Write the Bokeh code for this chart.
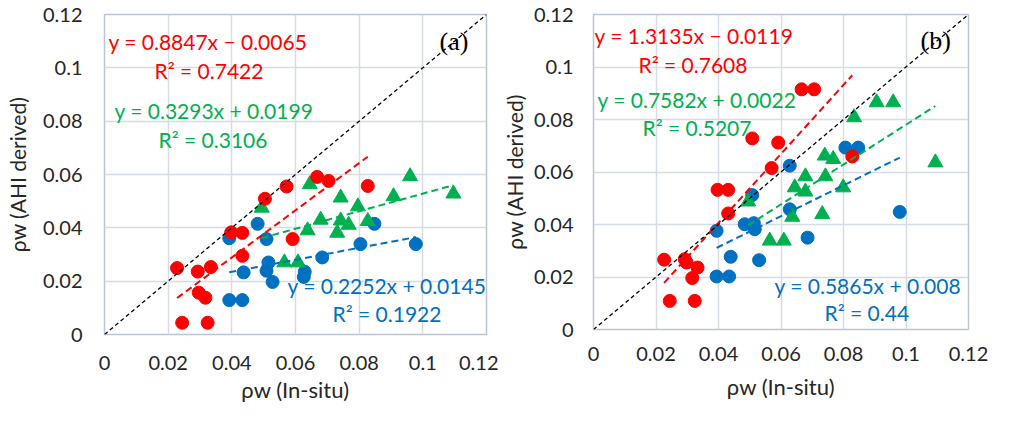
from bokeh.plotting import figure
from bokeh.layouts import row
from bokeh.models import Range1d, FixedTicker, Label
from bokeh.embed import file_html
from bokeh.resources import INLINE

# ---------------- data ----------------
ticks = [0, 0.02, 0.04, 0.06, 0.08, 0.1, 0.12]
tick_labels = ["0", "0.02", "0.04", "0.06", "0.08", "0.1", "0.12"]

# panel (a)
red_a_x = [0.0228, 0.0293, 0.0334, 0.0296, 0.0317, 0.0244, 0.0324, 0.0398, 0.0433, 0.0433, 0.0504, 0.0572, 0.0668, 0.0704, 0.0591, 0.0827]
red_a_y = [0.0249, 0.0236, 0.0253, 0.0157, 0.0138, 0.0044, 0.0044, 0.0383, 0.0381, 0.0295, 0.0509, 0.0555, 0.0591, 0.0576, 0.0358, 0.0557]
green_a_x = [0.0494, 0.0645, 0.0960, 0.0742, 0.0908, 0.1096, 0.0796, 0.0679, 0.0742, 0.0767, 0.0827, 0.0638, 0.0731, 0.0565, 0.0608]
green_a_y = [0.0475, 0.0563, 0.0593, 0.0513, 0.0518, 0.0528, 0.0480, 0.0430, 0.0427, 0.0411, 0.0425, 0.0390, 0.0381, 0.0270, 0.0270]
blue_a_x = [0.0481, 0.0392, 0.0509, 0.0437, 0.0515, 0.0509, 0.0528, 0.0629, 0.0626, 0.0684, 0.0804, 0.0848, 0.0978, 0.0392, 0.0433]
blue_a_y = [0.0415, 0.0361, 0.0358, 0.0233, 0.0270, 0.0239, 0.0197, 0.0235, 0.0216, 0.0289, 0.0339, 0.0415, 0.0339, 0.0129, 0.0129]

# panel (b)
red_b_x = [0.0666, 0.0706, 0.0508, 0.0591, 0.0828, 0.0570, 0.0397, 0.0431, 0.0431, 0.0226, 0.0292, 0.0298, 0.0333, 0.0316, 0.0244, 0.0324]
red_b_y = [0.0915, 0.0915, 0.0728, 0.0712, 0.0659, 0.0615, 0.0532, 0.0532, 0.0442, 0.0266, 0.0268, 0.0255, 0.0236, 0.0196, 0.0109, 0.0109]
green_b_x = [0.0906, 0.0959, 0.0834, 0.1094, 0.0740, 0.0767, 0.0678, 0.0742, 0.0644, 0.0678, 0.0799, 0.0495, 0.0636, 0.0732, 0.0564, 0.0609]
green_b_y = [0.0865, 0.0865, 0.0808, 0.0636, 0.0662, 0.0649, 0.0583, 0.0583, 0.0541, 0.0525, 0.0541, 0.0487, 0.0429, 0.0439, 0.0338, 0.0338]
blue_b_x = [0.0806, 0.0847, 0.0628, 0.0508, 0.0628, 0.0980, 0.0394, 0.0484, 0.0513, 0.0516, 0.0685, 0.0439, 0.0530, 0.0394, 0.0434]
blue_b_y = [0.0693, 0.0693, 0.0624, 0.0512, 0.0458, 0.0448, 0.0376, 0.0401, 0.0405, 0.0382, 0.0350, 0.0277, 0.0264, 0.0202, 0.0202]

# trendline coefficients (slope, intercept)
fit_a = {"red": (0.8847, -0.0065), "green": (0.3293, 0.0199), "blue": (0.2252, 0.0145)}
fit_b = {"red": (1.3135, -0.0119), "green": (0.7582, 0.0022), "blue": (0.5865, 0.008)}

eq_a = {"red": ["y = 0.8847x \u2212 0.0065", "R\u00b2 = 0.7422"],
        "green": ["y = 0.3293x + 0.0199", "R\u00b2 = 0.3106"],
        "blue": ["y = 0.2252x + 0.0145", "R\u00b2 = 0.1922"]}
eq_b = {"red": ["y = 1.3135x \u2212 0.0119", "R\u00b2 = 0.7608"],
        "green": ["y = 0.7582x + 0.0022", "R\u00b2 = 0.5207"],
        "blue": ["y = 0.5865x + 0.008", "R\u00b2 = 0.44"]}

x_title = "\u03c1w (In-situ)"
y_title = "\u03c1w (AHI derived)"

COL = {"red": "#FF0000", "green": "#00B050", "blue": "#0070C0"}
FONT = "Lato"
TXT = "#262626"


def make_panel(g, series, fits, eqs, tag):
    p = figure(frame_width=g["fw"], frame_height=g["fh"],
               min_border_left=g["bl"], min_border_right=g["br"],
               min_border_top=g["bt"], min_border_bottom=g["bb"],
               x_range=Range1d(0, 0.12), y_range=Range1d(0, 0.12),
               output_backend="svg", toolbar_location=None)
    p.background_fill_color = "white"
    p.border_fill_color = "white"
    p.outline_line_color = "#BAC4D3"
    p.outline_line_width = 1.5

    for ax in (p.xaxis[0], p.yaxis[0]):
        ax.ticker = FixedTicker(ticks=ticks)
        ax.major_label_overrides = {t: l for t, l in zip(ticks, tick_labels)}
        ax.axis_line_color = None
        ax.major_tick_line_color = None
        ax.minor_tick_line_color = None
        ax.major_tick_out = 0
        ax.major_tick_in = 0
        ax.major_label_text_font = FONT
        ax.major_label_text_font_size = "20px"
        ax.major_label_text_color = TXT
        ax.axis_label_text_font = FONT
        ax.axis_label_text_font_style = "normal"
        ax.axis_label_text_color = TXT
    p.xaxis[0].major_label_standoff = g["xs"]
    p.yaxis[0].major_label_standoff = g["ys"]
    p.xaxis[0].axis_label = x_title
    p.yaxis[0].axis_label = y_title
    p.xaxis[0].axis_label_text_font_size = "22px"
    p.yaxis[0].axis_label_text_font_size = "21px"
    p.xaxis[0].axis_label_standoff = g["xls"]
    p.yaxis[0].axis_label_standoff = g["yls"]

    for gr in (p.xgrid[0], p.ygrid[0]):
        gr.ticker = FixedTicker(ticks=ticks)
        gr.grid_line_color = "#D6DCE6"
        gr.grid_line_width = 1.5

    def X(px):
        return (px - g["x0"]) / g["fw"] * 0.12

    def Y(py):
        return (g["y0"] + g["fh"] - py) / g["fh"] * 0.12

    # markers: blue, green, red
    xs, ys = series["blue"]
    p.scatter(xs, ys, marker="circle", size=13, fill_color=COL["blue"], line_color=COL["blue"])
    xs, ys = series["green"]
    p.scatter(xs, ys, marker="triangle", size=15, fill_color=COL["green"], line_color=COL["green"])
    xs, ys = series["red"]
    p.scatter(xs, ys, marker="circle", size=13, fill_color=COL["red"], line_color=COL["red"])

    # trendlines over the data range of each series
    for key in ("red", "green", "blue"):
        xs, _ = series[key]
        m, c = fits[key]
        x_ends = [min(xs), max(xs)]
        p.line(x_ends, [m * v + c for v in x_ends], line_color=COL[key],
               line_width=2, line_dash="7 4")
    # 1:1 line
    p.line([ticks[0], ticks[-1]], [ticks[0], ticks[-1]], line_color="black",
           line_width=1.3, line_dash="4 3")

    # equations
    for key in ("red", "green", "blue"):
        for txt, (px, py) in zip(eqs[key], g["eqpos"][key]):
            p.add_layout(Label(x=X(px), y=Y(py), text=txt, text_font=FONT,
                               text_font_size="21px", text_color=COL[key],
                               text_align="left", text_baseline="middle"))
    # panel tag
    tx, ty = g["tag"]
    p.add_layout(Label(x=X(tx), y=Y(ty), text=tag, text_font="Liberation Serif",
                       text_font_size="26px", text_color="black",
                       text_align="left", text_baseline="middle"))
    return p


# geometry in page pixels (x0,y0 = top-left corner of the plot frame)
geom_a = dict(fw=382, fh=320, bl=104, br=12, bt=12, bb=75, x0=112, y0=20,
              xs=21, ys=22, xls=3, yls=10,
              eqpos={"red": [(116, 47), (162, 76)], "green": [(122, 116), (166, 145)],
                     "blue": [(295, 291), (340, 319)]},
              tag=(447, 47))
geom_b = dict(fw=375, fh=315, bl=95, br=26, bt=14, bb=78, x0=601, y0=22,
              xs=17, ys=20, xls=9, yls=4,
              eqpos={"red": [(602, 43), (646, 72)], "green": [(605, 107), (650, 135)],
                     "blue": [(782, 293), (832, 320)]},
              tag=(928, 48))

pa = make_panel(geom_a, {"red": (red_a_x, red_a_y), "green": (green_a_x, green_a_y),
                         "blue": (blue_a_x, blue_a_y)}, fit_a, eq_a, "(a)")
pb = make_panel(geom_b, {"red": (red_b_x, red_b_y), "green": (green_b_x, green_b_y),
                         "blue": (blue_b_x, blue_b_y)}, fit_b, eq_b, "(b)")

layout = row(pa, pb)
open("out.html", "w").write(file_html(layout, INLINE))
